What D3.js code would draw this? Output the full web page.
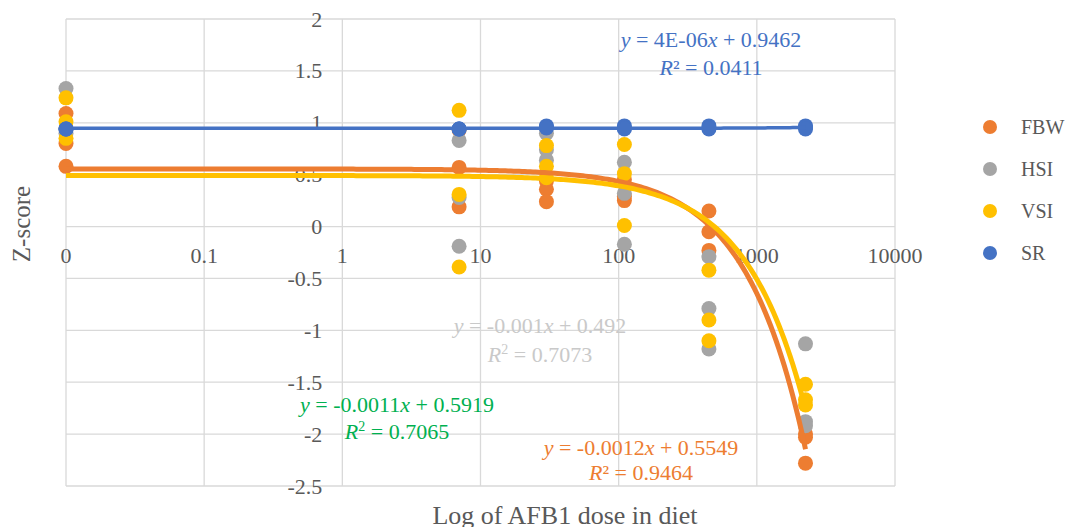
<!DOCTYPE html>
<html>
<head>
<meta charset="utf-8">
<script src="https://cdn.jsdelivr.net/npm/d3@7"></script>
<style>
  body { margin: 0; background: #fff; }
  svg text { font-family: "Liberation Serif", "DejaVu Serif", serif; }
  .grid line { stroke: #d9d9d9; stroke-width: 1.3; }
  .tick-label { fill: #595959; font-size: 22px; }
</style>
</head>
<body>
<svg id="chart" width="1072" height="527"></svg>
<script>
// doses (0 sits on the axis minimum of the log scale)
const doses = [0, 7, 30, 110, 450, 2250];
const xTicks = [0.01, 0.1, 1, 10, 100, 1000, 10000];
const xTickLabels = ["0", "0.1", "1", "10", "100", "1000", "10000"];
const yTicks = [2, 1.5, 1, 0.5, 0, -0.5, -1, -1.5, -2, -2.5];

// replicate z-scores per dose
const fbw = [[1.09, 0.80, 0.58], [0.93, 0.57, 0.19], [0.44, 0.36, 0.24], [0.45, 0.29, 0.25], [0.15, -0.05, -0.23], [-2.00, -2.03, -2.28]];
const hsi = [[1.33, 0.95, 0.90], [0.83, 0.28, -0.19], [0.90, 0.74, 0.64], [0.62, 0.32, -0.17], [-0.29, -0.79, -1.18], [-1.13, -1.88, -1.92]];
const vsi = [[1.24, 1.01, 0.85], [1.12, 0.31, -0.39], [0.78, 0.58, 0.47], [0.79, 0.51, 0.01], [-0.42, -0.90, -1.10], [-1.52, -1.67, -1.72]];
const sr  = [[0.94, 0.94, 0.94], [0.94, 0.94, 0.94], [0.97, 0.96, 0.95], [0.97, 0.95, 0.94], [0.97, 0.95, 0.94], [0.97, 0.96, 0.94]];

const seriesNames = ["FBW", "HSI", "VSI", "SR"];
const seriesColors = ["#ED7D31", "#A5A5A5", "#FFC000", "#4472C4"];
const seriesValues = [fbw, hsi, vsi, sr];

// linear trendlines y = a*x + b
const trendSeries = ["FBW", "VSI", "SR"];
const trendSlope = [-0.0012, -0.001, 0.000004];
const trendIntercept = [0.5549, 0.492, 0.9462];

const svg = d3.select("#chart");
const x = d3.scaleLog().domain([0.01, 10000]).range([66, 895]);
const y = d3.scaleLinear().domain([-2.5, 2]).range([486, 19]);
const xPos = d => x(Math.max(d, 0.01));

const grid = svg.append("g").attr("class", "grid");
grid.selectAll("line.h").data(yTicks).enter().append("line")
    .attr("x1", 66).attr("x2", 895)
    .attr("y1", d => y(d)).attr("y2", d => y(d));
grid.selectAll("line.v").data(xTicks).enter().append("line")
    .attr("x1", d => x(d)).attr("x2", d => x(d))
    .attr("y1", y(2)).attr("y2", y(-2.5));

svg.append("g").selectAll("text").data(yTicks).enter().append("text")
    .attr("class", "tick-label")
    .attr("x", x(1) - 20).attr("y", d => y(d))
    .attr("text-anchor", "end").attr("dominant-baseline", "central")
    .text(d => d);

svg.append("g").selectAll("text").data(xTicks).enter().append("text")
    .attr("class", "tick-label")
    .attr("x", d => x(d)).attr("y", y(0) + 36)
    .attr("text-anchor", "middle")
    .text((d, i) => xTickLabels[i]);

// points
seriesValues.forEach((vals, si) => {
    const pts = [];
    vals.forEach((reps, di) => reps.forEach(v => pts.push({ dose: doses[di], v })));
    svg.append("g").selectAll("circle").data(pts).enter().append("circle")
        .attr("cx", d => xPos(d.dose)).attr("cy", d => y(d.v))
        .attr("r", 7.5).attr("fill", seriesColors[si]);
});

// trendlines
const trendX = d3.range(-2, Math.log10(2250) + 0.001, 0.02).map(e => Math.pow(10, e)).concat([2250]);
const line = d3.line().x(d => x(d[0])).y(d => y(d[1]));
trendSeries.forEach((name, i) => {
    const si = seriesNames.indexOf(name);
    const pts = trendX.map(v => [v, trendSlope[i] * v + trendIntercept[i]]);
    svg.append("path").datum(pts)
        .attr("d", line).attr("fill", "none")
        .attr("stroke", seriesColors[si])
        .attr("stroke-width", name === "SR" ? 3.5 : 5);
});

// trendline equations
const eqs = [
    { cx: 711, y1: 47, y2: 75, color: "#4472C4", a: "4E-06", b: "0.9462", r2: "0.0411", sup: false },
    { cx: 540, y1: 333, y2: 362, color: "#C9C9C9", a: "-0.001", b: "0.492", r2: "0.7073", sup: true },
    { cx: 397, y1: 412, y2: 439, color: "#00B050", a: "-0.0011", b: "0.5919", r2: "0.7065", sup: true },
    { cx: 641, y1: 455, y2: 480, color: "#ED7D31", a: "-0.0012", b: "0.5549", r2: "0.9464", sup: false }
];
eqs.forEach(e => {
    const t1 = svg.append("text").attr("x", e.cx).attr("y", e.y1)
        .attr("text-anchor", "middle").attr("fill", e.color).style("font-size", "22px");
    t1.append("tspan").style("font-style", "italic").text("y");
    t1.append("tspan").text(` = ${e.a}`);
    t1.append("tspan").style("font-style", "italic").text("x");
    t1.append("tspan").text(` + ${e.b}`);
    const t2 = svg.append("text").attr("x", e.cx).attr("y", e.y2)
        .attr("text-anchor", "middle").attr("fill", e.color).style("font-size", "22px");
    t2.append("tspan").style("font-style", "italic").text("R");
    if (e.sup) {
        t2.append("tspan").attr("dy", -8).style("font-size", "14px").text("2");
        t2.append("tspan").attr("dy", 8).text(` = ${e.r2}`);
    } else {
        t2.append("tspan").text(`² = ${e.r2}`);
    }
});

// legend
const legend = svg.append("g");
seriesNames.forEach((name, i) => {
    const ly = 127 + i * 42;
    legend.append("circle").attr("cx", 990).attr("cy", ly).attr("r", 7).attr("fill", seriesColors[i]);
    legend.append("text").attr("x", 1021).attr("y", ly).attr("dominant-baseline", "central")
        .attr("fill", "#595959").style("font-size", "20px").text(name);
});

// axis titles
svg.append("text").attr("x", 565).attr("y", 524).attr("text-anchor", "middle")
    .attr("fill", "#595959").style("font-size", "26px").text("Log of AFB1 dose in diet");
svg.append("text").attr("transform", `translate(30,224) rotate(-90)`).attr("text-anchor", "middle")
    .attr("fill", "#595959").style("font-size", "25px").text("Z-score");
</script>
</body>
</html>
